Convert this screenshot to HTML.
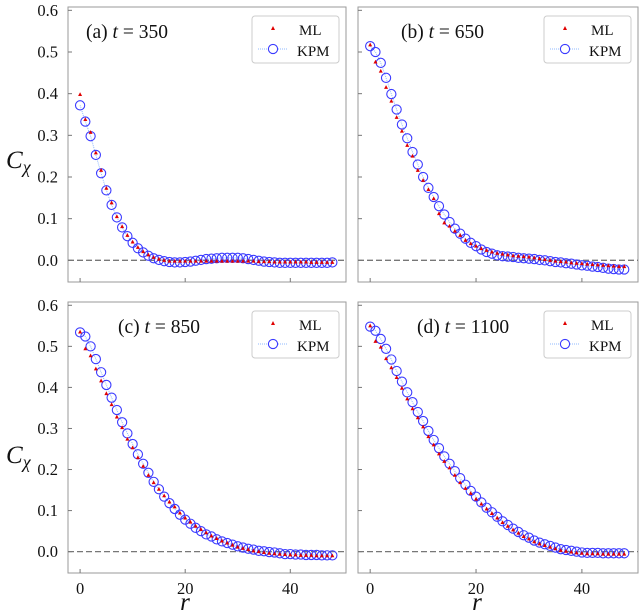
<!DOCTYPE html>
<html><head><meta charset="utf-8"><style>
body{margin:0;background:#fff;width:640px;height:615px;overflow:hidden}
svg{display:block;font-family:"Liberation Serif",serif}
</style></head><body>
<svg id="chart" width="640" height="615" xmlns="http://www.w3.org/2000/svg"></svg>
<script>
const rValues = Array.from({length:49},(_,i)=>i);
const yTicks = [0.0,0.1,0.2,0.3,0.4,0.5,0.6];
const xTicks = [0,20,40];
const panelTitles = ["(a)","(b)","(c)","(d)"];
const panelTimes = ["350","650","850","1100"];
const kpmA = [0.372,0.333,0.298,0.253,0.209,0.168,0.133,0.103,0.079,0.058,0.042,0.029,0.019,0.011,0.005,0.001,-0.002,-0.004,-0.005,-0.005,-0.004,-0.003,-0.001,0.001,0.003,0.004,0.005,0.006,0.006,0.006,0.006,0.005,0.003,0.001,-0.001,-0.003,-0.004,-0.005,-0.006,-0.006,-0.006,-0.006,-0.006,-0.006,-0.006,-0.006,-0.006,-0.006,-0.005];
const mlA = [0.398,0.338,0.307,0.258,0.216,0.173,0.138,0.105,0.081,0.060,0.044,0.031,0.021,0.013,0.007,0.003,0.000,-0.002,-0.002,-0.002,-0.002,-0.002,-0.002,-0.002,-0.002,-0.002,-0.002,-0.002,-0.002,-0.002,-0.002,-0.002,-0.002,-0.002,-0.003,-0.003,-0.003,-0.004,-0.004,-0.004,-0.004,-0.004,-0.004,-0.004,-0.005,-0.005,-0.005,-0.005,-0.005];
const kpmB = [0.514,0.500,0.474,0.438,0.399,0.362,0.326,0.293,0.260,0.230,0.200,0.174,0.152,0.130,0.110,0.092,0.076,0.064,0.052,0.042,0.034,0.026,0.020,0.016,0.012,0.010,0.009,0.008,0.006,0.005,0.004,0.003,0.001,0.000,-0.002,-0.004,-0.005,-0.007,-0.008,-0.010,-0.012,-0.013,-0.015,-0.016,-0.018,-0.020,-0.021,-0.022,-0.022];
const mlB = [0.517,0.476,0.454,0.415,0.382,0.343,0.310,0.276,0.250,0.216,0.192,0.170,0.148,0.112,0.090,0.082,0.070,0.060,0.048,0.040,0.034,0.028,0.024,0.020,0.017,0.015,0.013,0.011,0.010,0.009,0.008,0.006,0.004,0.002,0.000,-0.002,-0.003,-0.004,-0.006,-0.007,-0.008,-0.009,-0.010,-0.011,-0.012,-0.013,-0.014,-0.015,-0.015];
const kpmC = [0.534,0.524,0.500,0.469,0.437,0.406,0.375,0.345,0.315,0.288,0.262,0.237,0.214,0.192,0.170,0.152,0.134,0.118,0.104,0.090,0.078,0.068,0.058,0.050,0.042,0.037,0.030,0.025,0.021,0.017,0.013,0.010,0.007,0.005,0.002,0.001,-0.001,-0.002,-0.004,-0.006,-0.006,-0.007,-0.007,-0.008,-0.008,-0.008,-0.009,-0.009,-0.009];
const mlC = [0.535,0.494,0.477,0.445,0.416,0.385,0.358,0.328,0.302,0.274,0.253,0.229,0.208,0.186,0.168,0.152,0.136,0.121,0.109,0.094,0.082,0.072,0.062,0.054,0.046,0.038,0.032,0.026,0.021,0.016,0.011,0.008,0.005,0.002,0.000,-0.002,-0.004,-0.005,-0.006,-0.007,-0.008,-0.008,-0.009,-0.009,-0.009,-0.010,-0.010,-0.010,-0.010];
const kpmD = [0.548,0.538,0.518,0.494,0.468,0.440,0.414,0.388,0.364,0.340,0.318,0.294,0.272,0.252,0.232,0.214,0.196,0.179,0.163,0.148,0.134,0.120,0.107,0.096,0.085,0.074,0.065,0.056,0.048,0.040,0.034,0.027,0.022,0.018,0.014,0.010,0.006,0.004,0.002,0.000,-0.002,-0.003,-0.003,-0.003,-0.004,-0.004,-0.004,-0.004,-0.004];
const mlD = [0.550,0.512,0.498,0.470,0.448,0.424,0.398,0.372,0.348,0.326,0.304,0.280,0.260,0.238,0.220,0.204,0.186,0.168,0.154,0.142,0.128,0.116,0.104,0.093,0.082,0.071,0.062,0.053,0.045,0.037,0.031,0.024,0.019,0.015,0.011,0.007,0.003,0.001,-0.001,-0.003,-0.004,-0.005,-0.005,-0.005,-0.006,-0.006,-0.006,-0.006,-0.006];
const kpmSeries=[kpmA,kpmB,kpmC,kpmD];
const mlSeries=[mlA,mlB,mlC,mlD];

const NS="http://www.w3.org/2000/svg";
const svg=document.getElementById('chart');
function el(tag,attrs,parent){const e=document.createElementNS(NS,tag);for(const k in attrs)e.setAttribute(k,attrs[k]);(parent||svg).appendChild(e);return e;}
const panels=[{l:68,r:346,t:7,b:282},{l:358,r:638,t:7,b:282},{l:68,r:346,t:302,b:573},{l:358,r:638,t:302,b:573}];
const XMIN=-2.3,XMAX=50.6,YMIN=-0.052,YMAX=0.608;

panels.forEach((p,pi)=>{
  const g=el('g',{});
  
  
  const sx=v=>p.l+(v-XMIN)/(XMAX-XMIN)*(p.r-p.l);
  const sy=v=>p.b-(v-YMIN)/(YMAX-YMIN)*(p.b-p.t);
  const frame=el('rect',{x:p.l,y:p.t,width:p.r-p.l,height:p.b-p.t,fill:'none',stroke:'#9a9a9a','stroke-width':1},g);
  
  
  yTicks.forEach(v=>{
    const y=sy(v);
    el('line',{x1:p.l,x2:p.l+4,y1:y,y2:y,stroke:'#777'},g);
    if(pi%2===0){
      const t=el('text',{x:p.l-10,y:y+5.5,'text-anchor':'end','font-size':16.5,fill:'#111'},g);
      t.textContent=v.toFixed(1);
      
      
    }
  });
  xTicks.forEach(v=>{
    const x=sx(v);
    el('line',{x1:x,x2:x,y1:p.b,y2:p.b-4,stroke:'#777'},g);
    if(pi>=2){
      const t=el('text',{x:x,y:p.b+21,'text-anchor':'middle','font-size':16.5,fill:'#111'},g);
      t.textContent=v;
      
      
    }
  });
  const z=el('line',{x1:p.l,x2:p.r,y1:sy(0),y2:sy(0),stroke:'#777','stroke-width':1.3,'stroke-dasharray':'6,3'},g);
  
  
  const kp=kpmSeries[pi], ml=mlSeries[pi];
  const line=el('polyline',{points:rValues.map((r,i)=>sx(r)+','+sy(kp[i])).join(' '),fill:'none',stroke:'#8fb8ff','stroke-width':1,'stroke-dasharray':'1,1'},g);
  
  
  rValues.forEach((r,i)=>{
    const c=el('circle',{cx:sx(r),cy:sy(kp[i]),r:4.6,fill:'none',stroke:'#3a3aff','stroke-width':1.1},g);
    
    
  });
  rValues.forEach((r,i)=>{
    const x=sx(r),y=sy(ml[i]);
    const tr=el('polygon',{points:`${x},${y-2.3} ${x-2},${y+1.5} ${x+2},${y+1.5}`,fill:'#e00000'},g);
    
    
  });
  const tx=[86,401,118,417][pi], ty=p.t+31;
  const tt=el('text',{x:tx,y:ty,'font-size':19.5,fill:'#111'},g);
  
  
  tt.innerHTML=panelTitles[pi]+' <tspan font-style="italic">t</tspan> = '+panelTimes[pi];
  const lx=p.r-94, ly=p.t+9;
  const lg=el('g',{},g);
  
  
  el('rect',{x:lx,y:ly,width:87,height:47,rx:3,fill:'#fff',stroke:'#ccc','stroke-width':1},lg);
  el('polygon',{points:`${lx+21},${ly+10} ${lx+19},${ly+14} ${lx+23},${ly+14}`,fill:'#e00000'},lg);
  el('line',{x1:lx+6,x2:lx+35,y1:ly+33,y2:ly+33,stroke:'#8fb8ff','stroke-dasharray':'1,1'},lg);
  el('circle',{cx:lx+21,cy:ly+33,r:4.6,fill:'#fff',stroke:'#3a3aff','stroke-width':1.1},lg);
  const t1=el('text',{x:lx+47,y:ly+19,'font-size':15,fill:'#111'},lg);t1.textContent='ML';
  
  
  const t2=el('text',{x:lx+45,y:ly+40,'font-size':15,fill:'#111'},lg);t2.textContent='KPM';
  
  
});
[[150],[445]].forEach(([y])=>{
  const t=el('text',{x:6,y:y+18,'font-size':25,'font-style':'italic',fill:'#111'});
  t.innerHTML='C<tspan font-size="18" dy="5">χ</tspan>';
  
  
});
[185,477].forEach(x=>{
  const t=el('text',{x:x,y:610,'font-size':25,'font-style':'italic','text-anchor':'middle',fill:'#111'});
  t.textContent='r';
  
  
});
</script>
</body></html>
